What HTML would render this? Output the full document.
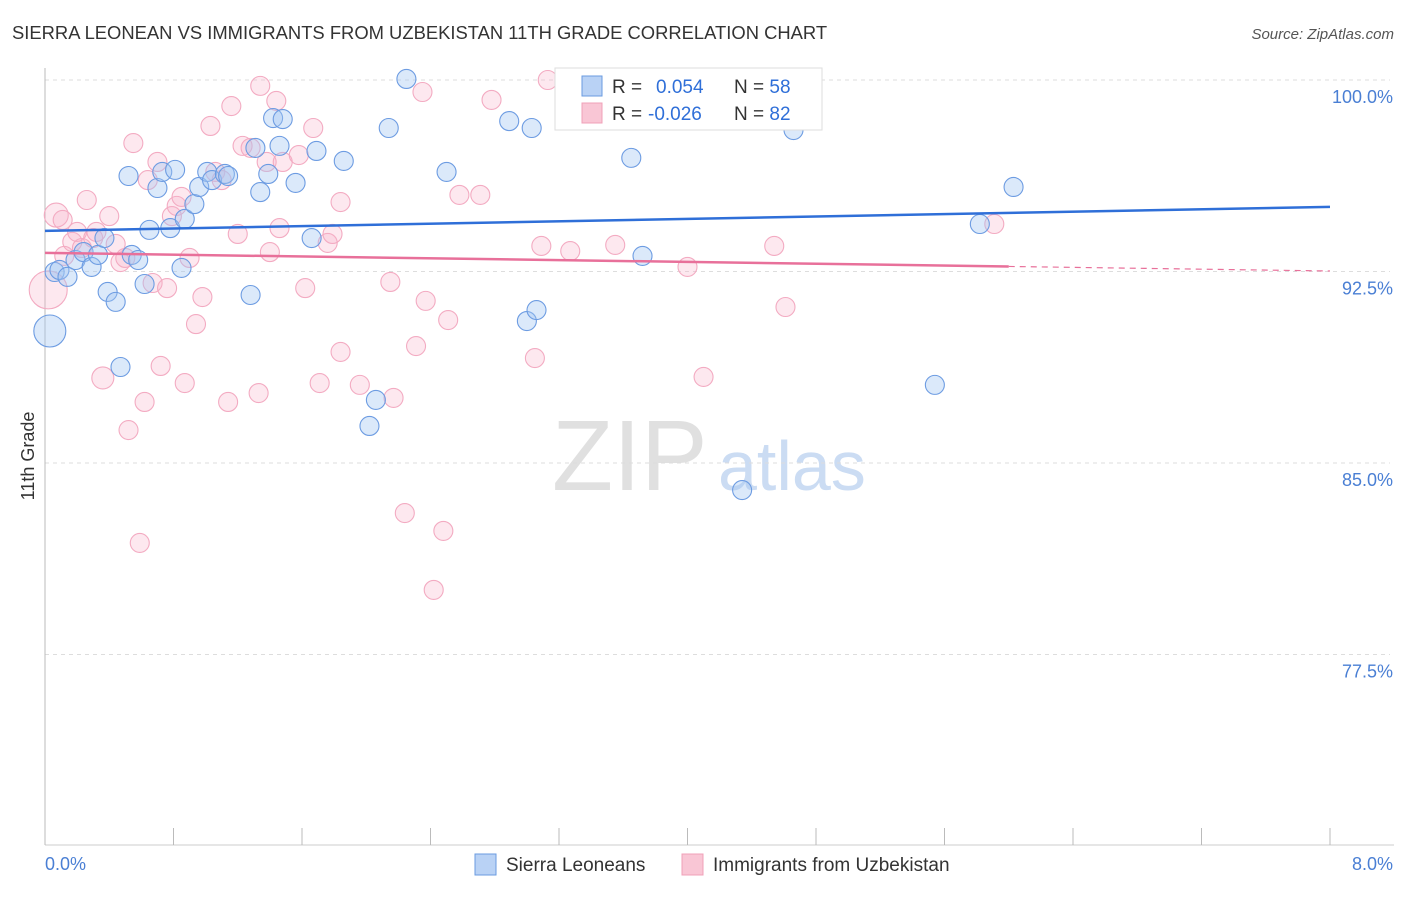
<!DOCTYPE html>
<html><head><meta charset="utf-8"><style>
body{margin:0;background:#fff;font-family:"Liberation Sans",sans-serif;}
svg text{font-family:"Liberation Sans",sans-serif;}
</style></head><body>
<svg id="chart" width="1406" height="892">
<text x="12" y="39" font-size="18.4" fill="#333">SIERRA LEONEAN VS IMMIGRANTS FROM UZBEKISTAN 11TH GRADE CORRELATION CHART</text>
<text x="1394" y="39" font-size="15" fill="#555" font-style="italic" text-anchor="end">Source: ZipAtlas.com</text>
<text x="552" y="490" font-size="100" fill="#e0e0e0" font-family="Liberation Serif,serif">ZIP</text>
<text x="718" y="490" font-size="70" fill="#cbdcf3">atlas</text>
<text transform="translate(34,456) rotate(-90)" font-size="18" fill="#333" text-anchor="middle">11th Grade</text>
<g id="grid"></g><g id="ticks"></g><g id="pts"></g><g id="lines"></g>
<g>
<rect x="555" y="68" width="267" height="62" fill="#fff" stroke="#ddd"/>
<rect x="582" y="76" width="20" height="20" fill="#b9d2f5" stroke="#6a9be0"/>
<rect x="582" y="103" width="20" height="20" fill="#f9c6d5" stroke="#f0a0b8"/>
<text x="612" y="93" font-size="19" fill="#333">R = <tspan fill="#2f6fd8" x="656">0.054</tspan><tspan x="734" fill="#333">N = </tspan><tspan fill="#2f6fd8">58</tspan></text>
<text x="612" y="120" font-size="19" fill="#333">R = <tspan fill="#2f6fd8" x="648">-0.026</tspan><tspan x="734" fill="#333">N = </tspan><tspan fill="#2f6fd8">82</tspan></text>
</g>
<g>
<rect x="475" y="854" width="21" height="21" fill="#b9d2f5" stroke="#6a9be0"/>
<text x="506" y="871" font-size="19" fill="#333">Sierra Leoneans</text>
<rect x="682" y="854" width="21" height="21" fill="#f9c6d5" stroke="#f0a0b8"/>
<text x="713" y="871" font-size="19" fill="#333">Immigrants from Uzbekistan</text>
</g>
</svg>
<script>
const yTicks=[100,92.5,85,77.5];
const yTickLabels=["100.0%","92.5%","85.0%","77.5%"];
const xTickLabels=["0.0%","8.0%"];
const blueX=[.03,.06,.09,.14,.19,.24,.29,.33,.37,.39,.44,.47,.52,.54,.58,.62,.65,.70,.73,.78,.81,.85,.87,.93,.96,1.01,1.04,1.12,1.14,1.28,1.31,1.34,1.39,1.42,1.46,1.48,1.56,1.66,1.69,1.86,2.02,2.06,2.14,2.25,2.50,2.89,3.00,3.03,3.06,3.65,3.72,4.31,4.34,4.66,5.54,5.82,6.03];
const blueY=[90.17,92.48,92.56,92.29,92.95,93.26,92.68,93.15,93.81,91.70,91.31,88.76,96.24,93.15,92.95,92.01,94.13,95.77,96.40,94.20,96.48,92.64,94.56,95.14,95.81,96.40,96.08,96.32,96.24,91.58,97.34,95.61,96.32,98.51,97.42,98.47,95.97,93.81,97.22,96.83,86.45,87.47,98.12,100.04,96.40,98.39,90.56,98.12,90.99,96.95,93.11,100.0,83.94,98.04,88.06,94.36,95.81];
const pinkX=[.02,.07,.11,.12,.17,.20,.23,.26,.30,.32,.36,.40,.44,.47,.50,.52,.55,.59,.62,.64,.67,.70,.72,.76,.79,.82,.85,.87,.90,.94,.98,1.03,1.06,1.10,1.14,1.16,1.20,1.23,1.28,1.33,1.34,1.38,1.40,1.44,1.46,1.48,1.58,1.62,1.67,1.71,1.76,1.79,1.84,1.84,1.96,2.15,2.17,2.24,2.31,2.35,2.37,2.42,2.48,2.51,2.58,2.71,2.78,3.05,3.09,3.13,3.27,3.55,4.00,4.10,4.54,4.61,5.91];
const pinkY=[91.78,94.71,94.52,93.11,93.66,94.05,93.42,95.30,93.81,94.05,88.33,94.67,93.58,92.87,93.03,86.29,97.53,81.87,87.39,96.08,92.05,96.79,88.80,91.85,94.67,95.07,95.42,88.13,93.03,90.44,91.50,98.20,96.40,96.08,87.39,98.98,93.97,97.42,97.34,87.74,99.77,96.79,93.26,99.18,94.20,96.79,97.06,91.85,98.12,88.13,93.62,93.97,95.22,89.35,88.06,92.09,87.55,83.04,89.58,99.53,91.35,80.03,82.34,90.60,95.50,95.50,99.22,89.11,93.50,100.0,93.30,93.54,92.68,88.37,93.50,91.11,94.36];
const blueTrend=[94.09,95.03];
const pinkTrend=[93.23,92.52];
const pinkSolidEnd=6.0;
const X0=45,X1=1330,Y100=80,PXPER=191.5/7.5;
const sx=v=>X0+(v/8)*(X1-X0);
const sy=v=>Y100+(100-v)*PXPER;
const NS="http://www.w3.org/2000/svg";
function mk(tag,attrs,parent){const e=document.createElementNS(NS,tag);for(const k in attrs)e.setAttribute(k,attrs[k]);document.getElementById(parent).appendChild(e);return e;}
yTicks.forEach((t,i)=>{
 const l=mk('line',{x1:X0,x2:X1+60,y1:sy(t),y2:sy(t),stroke:'#ddd','stroke-dasharray':'4,4'},'grid');
 
 
 const tx=mk('text',{x:1393,y:sy(t)+23,'font-size':18,fill:'#4a7fd4','text-anchor':'end'},'grid');
 tx.textContent=yTickLabels[i];
 
 
});
const ax=mk('line',{x1:X0,x2:X0,y1:68,y2:845,stroke:'#bbb'},'ticks');


const bx=mk('line',{x1:X0,x2:1394,y1:845,y2:845,stroke:'#ccc'},'ticks');


for(let i=0;i<=10;i++){
 const v=i*0.8;
 const t=mk('line',{x1:sx(v),x2:sx(v),y1:828,y2:845,stroke:'#bbb'},'ticks');
 
 
}
[[0,X0,'start'],[8,1393,'end']].forEach((a,i)=>{
 const t=mk('text',{x:i?1393:45,y:870,'font-size':18,fill:'#4a7fd4','text-anchor':a[2]},'ticks');
 t.textContent=xTickLabels[i];
 
 
});
function drawPts(xs,ys,fill,stroke,big,name){
 xs.forEach((x,i)=>{
  const r=big[i]||9.5;
  const c=mk('circle',{cx:sx(x),cy:sy(ys[i]),r:r,fill:fill,stroke:stroke,'stroke-width':1.1},'pts');
  
  
 });
}
drawPts(pinkX,pinkY,'rgba(248,180,202,0.3)','#f3abc2',{0:19,1:12,10:11},'point-uzbekistan');
drawPts(blueX,blueY,'rgba(160,196,242,0.38)','#6d9ce2',{0:16},'point-sierra-leonean');
const bl=mk('line',{x1:sx(0),x2:sx(8),y1:sy(blueTrend[0]),y2:sy(blueTrend[1]),stroke:'#2f6fd8','stroke-width':2.5},'lines');


const pv=x=>pinkTrend[0]+(pinkTrend[1]-pinkTrend[0])*x/8;
const pl=mk('line',{x1:sx(0),x2:sx(pinkSolidEnd),y1:sy(pv(0)),y2:sy(pv(pinkSolidEnd)),stroke:'#e8709a','stroke-width':2.5},'lines');


const pd=mk('line',{x1:sx(pinkSolidEnd),x2:sx(8),y1:sy(pv(pinkSolidEnd)),y2:sy(pv(8)),stroke:'#e8709a','stroke-width':1.2,'stroke-dasharray':'6,5'},'lines');


</script>
</body></html>
